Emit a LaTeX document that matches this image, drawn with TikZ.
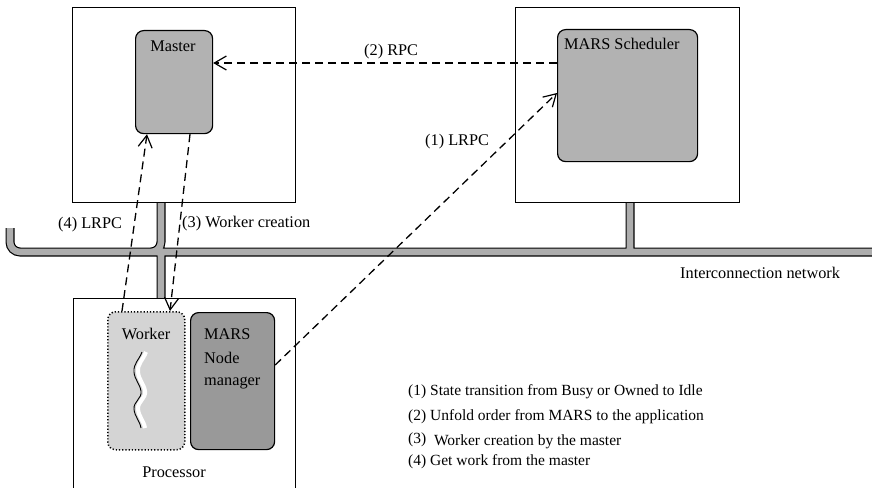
\documentclass[tikz,border=0pt]{standalone}
\usepackage{fontspec}
\setmainfont{Liberation Serif}
\usetikzlibrary{arrows.meta,calc}
\newcommand\netpaths{(10,228) -- (10,252) -- (885,252) (161,202) -- (161,252) -- (140,252) (161,252) -- (161,298) (630,202) -- (630,252)}
\newcommand\wavepath{to[out=250,in=95] ++(-8,20) to[out=-85,in=100] ++(7,19) to[out=-80,in=95] ++(-7,18) to[out=-85,in=100] ++(7,19)}
\begin{document}
\begin{tikzpicture}[x=1pt,y=-1pt,
  txt/.style={font=\fontsize{16.3}{19}\selectfont, inner sep=0pt, anchor=west},
  leg/.style={font=\fontsize{15.5}{18}\selectfont, inner sep=0pt, anchor=west},
  frame/.style={draw=black, line width=1.2pt, fill=white, anchor=north west, inner sep=0pt},
  proc/.style={draw=black, rounded corners=8pt, line width=1.2pt, anchor=north west, inner sep=0pt},
  link/.style={dash pattern=on 8pt off 5pt, line width=1.3pt},
  tip/.style={-{Straight Barb[length=12pt,width=14pt,line width=1.2pt]}}]
\useasboundingbox (0,0) rectangle (872,487);
% network
\draw[line width=9pt, rounded corners=10pt] \netpaths;
\draw[line width=6.6pt, black!32, rounded corners=10pt] \netpaths;
% frames
\node[frame, minimum width=223pt, minimum height=195pt] (boxL) at (72,7) {};
\node[frame, minimum width=224pt, minimum height=195pt] (boxR) at (515,7) {};
\node[frame, minimum width=222pt, minimum height=230pt] (boxP) at (73,298) {};
% processes
\node[proc, fill=black!30, minimum width=77pt, minimum height=103pt] (master) at (135,30) {};
\node[proc, fill=black!30, minimum width=140pt, minimum height=132pt] (sched) at (557,29) {};
\node[proc, dotted, line width=1.5pt, fill=black!17, minimum width=77pt, minimum height=138pt] (worker) at (107,311) {};
\node[proc, fill=black!40, minimum width=84pt, minimum height=137pt] (nm) at (190,312) {};
% texts in boxes
\node[txt, anchor=center] (tmaster) at (173,46) {Master};
\node[txt] (tsched) at (564,44) {MARS Scheduler};
\node[txt, anchor=center] (tworker) at (146,334) {Worker};
\node[txt] (tnm1) at (204,334) {MARS};
\node[txt] (tnm2) at (204,358) {Node};
\node[txt] (tnm3) at (204,383) {manager};
\node[txt, anchor=center] (tproc) at (174,472) {Processor};
% thread
\draw[line width=4pt, white] (146,352) \wavepath;
\draw[line width=0.9pt] (142,352) \wavepath;
% connectors
\draw[link, tip] ($(sched.north west)+(0,34)$) -- ($(master.north east)+(0,33)$);
\draw[link, tip] ($(nm.north east)+(0,53)$) -- ($(sched.north west)+(0,64)$);
\draw[link, tip] ($(master.south west)+(55,0)$) -- ($(worker.north west)+(63,0)$);
\draw[link, tip] ($(worker.north west)+(15,0)$) -- ($(master.south west)+(12,0)$);
% labels
\node[txt] (l2) at (364,52) {(2) RPC};
\node[txt] (l1) at (425,142) {(1) LRPC};
\node[txt] (l4) at (58,225) {(4) LRPC};
\node[txt] (l3) at (182,224) {(3) Worker creation};
\node[txt] (lnet) at (680,273) {Interconnection network};
% legend
\node[leg] (g1) at (408,392) {(1) State transition from Busy or Owned to Idle};
\node[leg] (g2) at (408,417) {(2) Unfold order from MARS to the application};
\node[leg] (g3) at (408,441) {\raisebox{2pt}{(3)}\ \ Worker creation by the master};
\node[leg] (g4) at (408,462) {(4) Get work from the master};
\end{tikzpicture}
\end{document}
